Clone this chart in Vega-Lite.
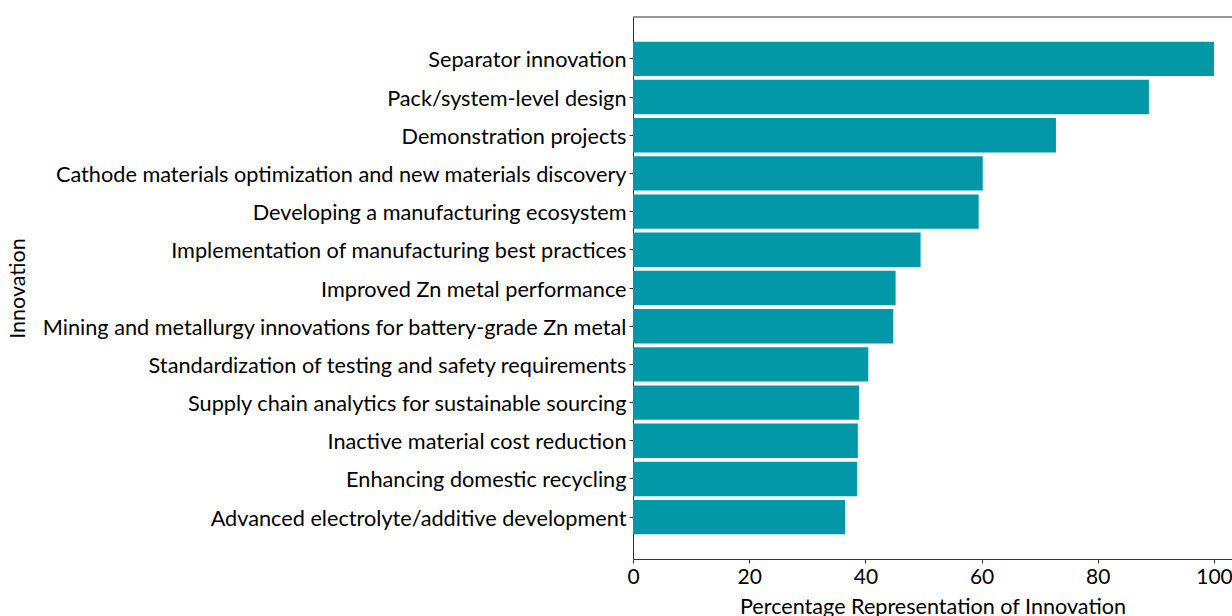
{
  "$schema": "https://vega.github.io/schema/vega-lite/v6.json",
  "autosize": {"type": "none"},
  "padding": {"left": 633, "top": 17, "right": 0, "bottom": 57},
  "width": 599,
  "height": 542,
  "background": "white",
  "config": {
    "view": {"stroke": null},
    "font": "Lato",
    "axis": {"labelFont": "Lato", "titleFont": "Lato", "labelColor": "black", "titleColor": "black", "domainColor": "#333", "tickColor": "#333", "titleFontWeight": "normal"}
  },
  "data": {
    "values": [
      {"Innovation": "Separator innovation", "Pct": 100},
      {"Innovation": "Pack/system-level design", "Pct": 88.8},
      {"Innovation": "Demonstration projects", "Pct": 72.8},
      {"Innovation": "Cathode materials optimization and new materials discovery", "Pct": 60.2},
      {"Innovation": "Developing a manufacturing ecosystem", "Pct": 59.5},
      {"Innovation": "Implementation of manufacturing best practices ", "Pct": 49.5},
      {"Innovation": "Improved Zn metal performance", "Pct": 45.2},
      {"Innovation": "Mining and metallurgy innovations for battery-grade Zn metal", "Pct": 44.8},
      {"Innovation": "Standardization of testing and safety requirements", "Pct": 40.5},
      {"Innovation": "Supply chain analytics for sustainable sourcing", "Pct": 38.9},
      {"Innovation": "Inactive material cost reduction", "Pct": 38.7},
      {"Innovation": "Enhancing domestic recycling", "Pct": 38.55},
      {"Innovation": "Advanced electrolyte/additive development", "Pct": 36.5}
    ]
  },
  "layer": [
    {
      "mark": {"type": "bar", "color": "#0398a8"},
      "encoding": {
        "y": {
          "field": "Innovation", "type": "nominal", "sort": null,
          "scale": {"paddingInner": 0.1, "paddingOuter": 0.645},
          "axis": {"title": "Innovation", "titleFontSize": 21.5, "titleX": -615, "titleY": 271, "titleAngle": -90, "titleAlign": "center", "titleBaseline": "middle", "labelFontSize": 21.7, "labelPadding": 3, "labelOffset": 1.5, "tickSize": 4, "labelLimit": 700, "domainWidth": 1}
        },
        "x": {
          "field": "Pct", "type": "quantitative",
          "scale": {"domain": [0, 103.1], "nice": false, "zero": true},
          "axis": {"title": "Percentage Representation of Innovation", "titleFontSize": 21.6, "titlePadding": 9, "labelFontSize": 21, "labelPadding": 3, "tickSize": 4, "values": [0, 20, 40, 60, 80, 100], "grid": false, "labelFlush": false}
        }
      }
    },
    {
      "mark": {"type": "rule", "color": "#333", "strokeWidth": 1},
      "data": {"values": [{"v": 0}]},
      "encoding": {"y": {"value": 0}}
    }
  ]
}
